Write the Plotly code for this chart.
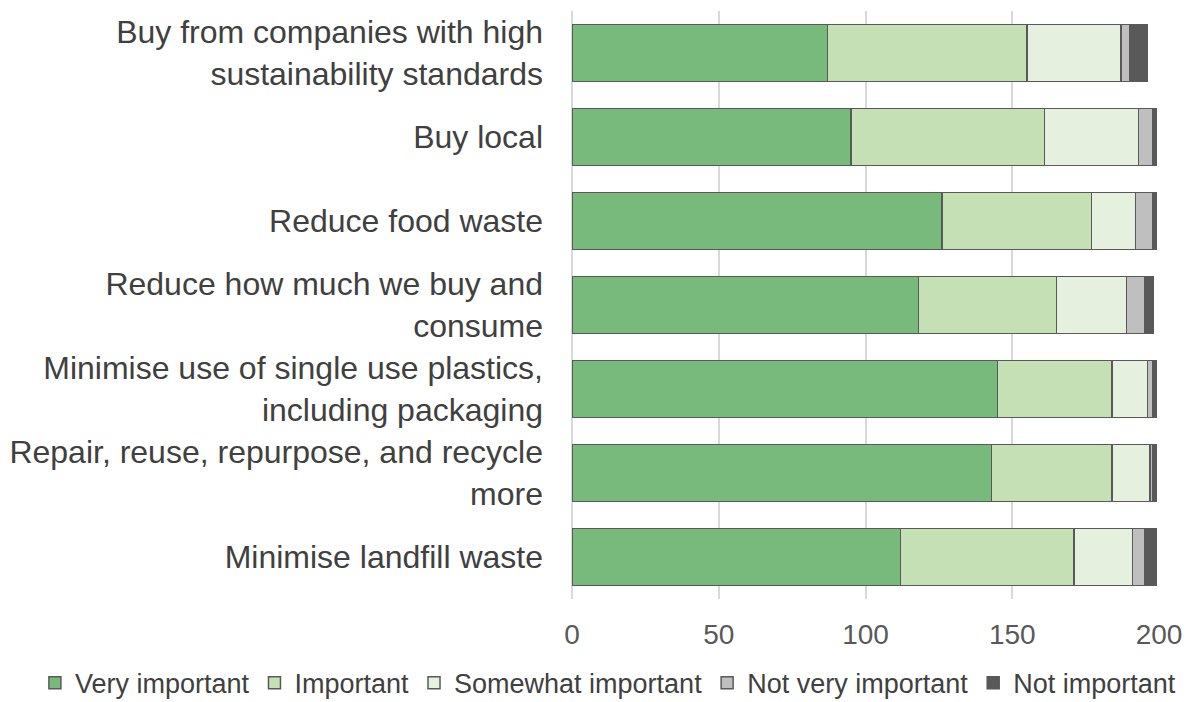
import plotly.graph_objects as go

# Survey responses per sustainability action
categories = [
    "Buy from companies with high<br>sustainability standards",
    "Buy local",
    "Reduce food waste",
    "Reduce how much we buy and<br>consume",
    "Minimise use of single use plastics,<br>including packaging",
    "Repair, reuse, repurpose, and recycle<br>more",
    "Minimise landfill waste",
]

very_important = [87, 95, 126, 118, 145, 143, 112]
important = [68, 66, 51, 47, 39, 41, 59]
somewhat_important = [32, 32, 15, 24, 12, 13, 20]
not_very_important = [3, 5, 6, 6, 2, 1, 4]
not_important = [6, 1, 1, 3, 1, 1, 4]

x_ticks = [0, 50, 100, 150, 200]

series = [
    ("Very important", very_important, "#78B97C"),
    ("Important", important, "#C6E0B5"),
    ("Somewhat important", somewhat_important, "#E5F1DE"),
    ("Not very important", not_very_important, "#BFBFBF"),
    ("Not important", not_important, "#595959"),
]

FONT = "Arial, Liberation Sans, sans-serif"

fig = go.Figure()
for name, values, color in series:
    fig.add_trace(
        go.Bar(
            name=name,
            y=categories,
            x=values,
            orientation="h",
            marker=dict(color=color, line=dict(color="#595959", width=1.5)),
        )
    )

fig.update_layout(
    barmode="stack",
    bargap=0.32,
    width=1203,
    height=702,
    margin=dict(l=572, r=44, t=11, b=103, autoexpand=False),
    paper_bgcolor="white",
    plot_bgcolor="white",
    font=dict(family=FONT, size=28, color="#404040"),
    showlegend=True,
    legend=dict(
        orientation="h",
        xref="paper",
        x=-0.915,
        xanchor="left",
        yref="paper",
        y=-0.143,
        yanchor="middle",
        bgcolor="rgba(0,0,0,0)",
        font=dict(family=FONT, size=27, color="#404040"),
        itemclick=False,
        traceorder="normal",
        tracegroupgap=0,
    ),
    xaxis=dict(
        range=[0, 200],
        tickvals=x_ticks,
        showgrid=True,
        gridcolor="#D9D9D9",
        gridwidth=1.5,
        zeroline=True,
        zerolinecolor="#D9D9D9",
        zerolinewidth=1.5,
        showline=False,
        ticks="",
        ticklabelstandoff=16,
        tickfont=dict(family=FONT, size=28, color="#595959"),
    ),
    yaxis=dict(
        autorange="reversed",
        showgrid=False,
        showline=False,
        ticks="",
        ticklabelstandoff=28,
        tickfont=dict(family=FONT, size=32, color="#404040"),
    ),
)

fig.write_html("out.html")
